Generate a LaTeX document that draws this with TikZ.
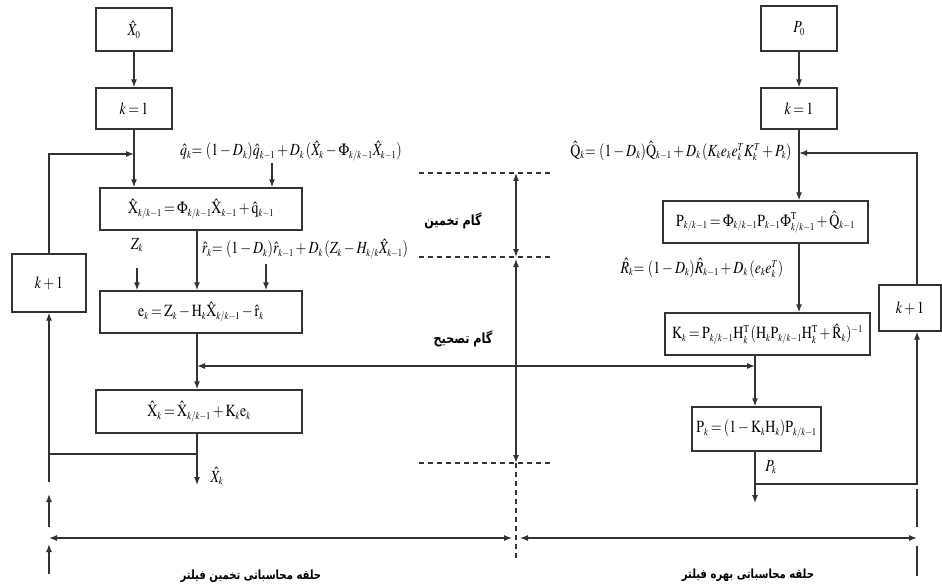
\documentclass[tikz,border=0pt]{standalone}
\usepackage{mathptmx}
\usepackage{graphicx}
\usepackage{fontspec}
\setmainfont{Liberation Serif}
\newfontfamily\arabicfont[Script=Arabic]{DejaVu Sans}
\TeXXeTstate=1
\DeclareMathSizes{17}{17}{10.5}{8.5}
\usetikzlibrary{arrows.meta}
\definecolor{linec}{RGB}{50,50,50}
\newcommand{\eqfont}{\fontsize{17}{19}\selectfont\thickmuskip=3mu plus 1mu\medmuskip=2.5mu plus 1mu}
\newcommand{\eqn}[1]{\scalebox{0.82}[1]{$#1$}}
\newcommand{\fatext}[1]{\scalebox{0.8}[1]{\beginR #1\endR}}
\tikzset{
  box/.style={draw=linec, line width=1.3pt, inner sep=0pt, font=\eqfont},
  lbl/.style={inner sep=0pt, font=\eqfont},
  fa/.style={inner sep=0pt, font=\arabicfont\bfseries\fontsize{14}{16}\selectfont},
  fab/.style={inner sep=0pt, font=\arabicfont\bfseries\fontsize{12.6}{15}\selectfont},
  conn/.style={draw=linec, line width=1.3pt},
  dsh/.style={draw=linec, line width=1.3pt, dash pattern=on 5pt off 4pt},
}
\begin{document}
\begin{tikzpicture}[x=1pt,y=-1pt,>={Latex[length=8pt,width=6pt]}]
\useasboundingbox (0,0) rectangle (942,588);
% left column boxes
\node[box, minimum width=76pt, minimum height=43pt] (x0) at (134,29.5) {\eqn{\hat{X}_0}};
\node[box, minimum width=76pt, minimum height=41pt] (k1L) at (134,108.5) {\eqn{k = 1}};
\node[box, minimum width=202pt, minimum height=42pt] (xpred) at (201,209) {\eqn{\hat{\mathrm{X}}_{k/k-1} = \Phi_{k/k-1}\hat{\mathrm{X}}_{k-1} + \hat{\mathrm{q}}_{k-1}}};
\node[box, minimum width=202pt, minimum height=42pt] (ek) at (201,312) {\eqn{\mathrm{e}_k = \mathrm{Z}_k - \mathrm{H}_k\hat{\mathrm{X}}_{k/k-1} - \hat{\mathrm{r}}_k}};
\node[box, minimum width=206pt, minimum height=43pt] (xk) at (199,411.5) {\eqn{\hat{\mathrm{X}}_k = \hat{\mathrm{X}}_{k/k-1} + \mathrm{K}_k\mathrm{e}_k}};
\node[box, minimum width=74pt, minimum height=58pt] (kp1L) at (49,283) {\eqn{k + 1}};
% left labels
\node[lbl] (qhat) at (291,151) {\eqn{\hat{q}_k{=}\ (1-D_k)\hat{q}_{k-1} + D_k\,(\hat{X}_k - \Phi_{k/k-1}\hat{X}_{k-1})}};
\node[lbl] (zk) at (137,245) {\eqn{Z_k}};
\node[lbl] (rhat) at (305,249) {\eqn{\hat{r}_k{=}\ (1-D_k)\hat{r}_{k-1} + D_k\,(Z_k - H_{k/k}\hat{X}_{k-1})}};
\node[lbl] (xout) at (217,476) {\eqn{\hat{X}_k}};
% right column boxes
\node[box, minimum width=76pt, minimum height=45pt] (p0) at (799,28.5) {\eqn{P_0}};
\node[box, minimum width=76pt, minimum height=41pt] (k1R) at (799,108.5) {\eqn{k = 1}};
\node[box, minimum width=205pt, minimum height=42pt] (ppred) at (765.5,222) {\eqn{\mathrm{P}_{k/k-1} = \Phi_{k/k-1}\mathrm{P}_{k-1}\Phi^{\mathrm{T}}_{k/k-1} + \hat{\mathrm{Q}}_{k-1}}};
\node[box, minimum width=205pt, minimum height=42pt] (kk) at (767.5,334) {\eqn{\mathrm{K}_k = \mathrm{P}_{k/k-1}\mathrm{H}_k^{\mathrm{T}}\,(\mathrm{H}_k\mathrm{P}_{k/k-1}\mathrm{H}_k^{\mathrm{T}} + \hat{\mathrm{R}}_k)^{-1}}};
\node[box, minimum width=129pt, minimum height=44pt] (pk) at (756.5,429) {\eqn{\mathrm{P}_k = (1-\mathrm{K}_k\mathrm{H}_k)\mathrm{P}_{k/k-1}}};
\node[box, minimum width=62pt, minimum height=46pt] (kp1R) at (910,308) {\eqn{k + 1}};
% right labels
\node[lbl] (Qhat) at (681,151) {\eqn{\hat{\mathrm{Q}}_k{=}\ (1-D_k)\hat{\mathrm{Q}}_{k-1} + D_k\,(K_k e_k e_k^T K_k^T + P_k)}};
\node[lbl] (Rhat) at (702,268) {\eqn{\hat{R}_k{=}\ (1-D_k)\hat{R}_{k-1} + D_k\,(e_k e_k^T)}};
\node[lbl] (pout) at (771,467) {\eqn{P_k}};
% persian labels
\node[fa] (g1) at (453,221) {\fatext{گام تخمین}};
\node[fa] (g2) at (463,339) {\fatext{گام تصحیح}};
\node[fab] (b1) at (251,576) {\fatext{حلقه محاسباتی تخمین فیلتر}};
\node[fab] (b2) at (748,575) {\fatext{حلقه محاسباتی بهره فیلتر}};
% coordinates
\coordinate (tL) at (197,0);
\coordinate (qa) at (272,163);
\coordinate (ra) at (266,264);
\coordinate (za) at (137,268);
\coordinate (outL) at (197,485);
\coordinate (brL) at (197,454);
\coordinate (cBL) at (49,454);
\coordinate (loopBL) at (49,482);
\coordinate (cTL) at (49,154);
\coordinate (joinL) at (134,154);
\coordinate (tR1) at (799,0);
\coordinate (tR2) at (755,0);
\coordinate (outR) at (755,503);
\coordinate (brR) at (755,484);
\coordinate (cBR) at (917,484);
\coordinate (cTR) at (917,153);
\coordinate (joinR) at (799,153);
\coordinate (vR) at (917,0);
\coordinate (hL) at (197,366);
\coordinate (hR) at (755,366);
% left connectors
\draw[conn,->] (x0) -- (k1L);
\draw[conn,->] (k1L.south) -- (k1L.south |- xpred.north);
\draw[conn,->] (kp1L.north) -- (cTL) -- (joinL);
\draw[conn,->] (qa) -- (qa |- xpred.north);
\draw[conn,->] (za) -- (za |- ek.north);
\draw[conn,->] (ra) -- (ra |- ek.north);
\draw[conn,->] (tL |- xpred.south) -- (tL |- ek.north);
\draw[conn,->] (tL |- ek.south) -- (tL |- xk.north);
\draw[conn,->] (tL |- xk.south) -- (outL);
\draw[conn] (brL) -- (cBL);
\draw[conn,->] (loopBL) -- (kp1L.south);
\draw[conn,<->] (hL) -- (hR);
% right connectors
\draw[conn,->] (p0) -- (k1R);
\draw[conn,->] (k1R.south) -- (tR1 |- ppred.north);
\draw[conn,->] (tR1 |- ppred.south) -- (tR1 |- kk.north);
\draw[conn,->] (tR2 |- kk.south) -- (tR2 |- pk.north);
\draw[conn,->] (tR2 |- pk.south) -- (outR);
\draw[conn,->] (brR) -- (cBR) -- (vR |- kp1R.south);
\draw[conn,->] (vR |- kp1R.north) -- (cTR) -- (joinR);
% middle dimension lines
\coordinate (m1) at (516,173);
\coordinate (m2) at (516,257);
\coordinate (m2b) at (516,259);
\coordinate (m3) at (516,463);
\coordinate (m4) at (516,560);
\draw[dsh] (419,173) -- (553,173);
\draw[dsh] (419,257) -- (553,257);
\draw[dsh] (419,463) -- (553,463);
\draw[conn,<->] (m1) -- (m2);
\draw[conn,<->] (m2b) -- (m3);
\draw[dsh] (m3) -- (m4);
% bottom dimension
\coordinate (bL) at (49,538);
\coordinate (bM1) at (512,538);
\coordinate (bM2) at (520,538);
\coordinate (bR) at (917,538);
\draw[conn,<->] (bL) -- (bM1);
\draw[conn,<->] (bM2) -- (bR);
\draw[conn,->] (49,527) -- (49,494);
\draw[conn,->] (49,574) -- (49,544);
\draw[conn] (917,489) -- (917,527);
\draw[conn] (917,546) -- (917,576);
\end{tikzpicture}
\end{document}
